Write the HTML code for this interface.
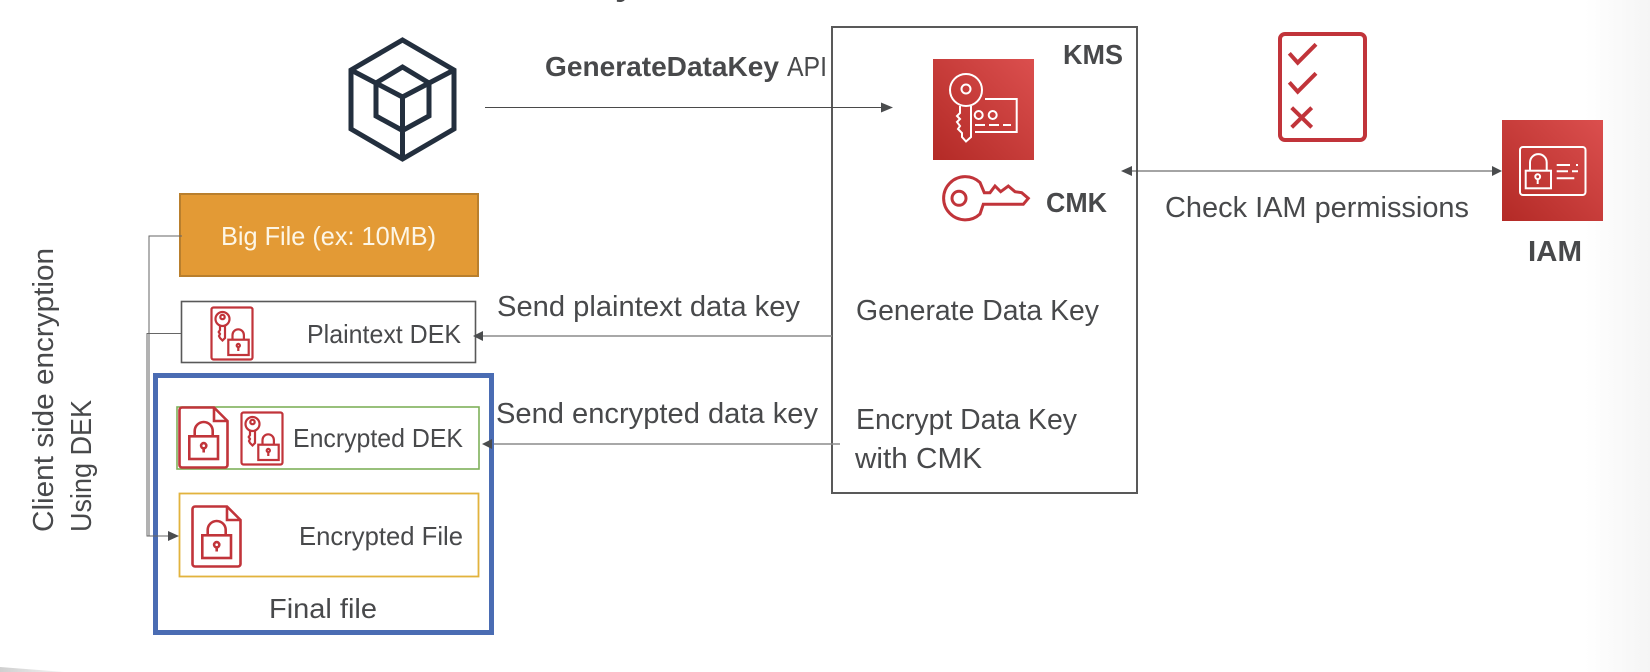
<!DOCTYPE html>
<html>
<head>
<meta charset="utf-8">
<style>
html,body{margin:0;padding:0;background:#fff;}
svg{display:block;filter:blur(0.35px);}
text{font-family:"Liberation Sans",sans-serif;fill:#48494b;}
</style>
</head>
<body>
<svg width="1650" height="672" viewBox="0 0 1650 672" xmlns="http://www.w3.org/2000/svg">
<defs>
<linearGradient id="red" x1="0" y1="1" x2="1" y2="0">
<stop offset="0" stop-color="#b32a26"/><stop offset="1" stop-color="#db4f4e"/>
</linearGradient>
<linearGradient id="edge" x1="0" y1="0" x2="1" y2="0">
<stop offset="0" stop-color="#fff"/><stop offset="1" stop-color="#f5f5f5"/>
</linearGradient>
<linearGradient id="sliver" x1="0" y1="0" x2="1" y2="0">
<stop offset="0" stop-color="#cfcfcf"/><stop offset="1" stop-color="#f4f4f4"/>
</linearGradient>
<symbol id="keydoc" viewBox="0 0 42 53" width="42" height="53" overflow="visible">
<g fill="none" stroke="#c1343a" stroke-width="2.2">
<rect x="0.5" y="0.5" width="41" height="52" rx="2"/>
<circle cx="11.5" cy="12" r="7"/><circle cx="11.5" cy="10" r="2.2"/>
<path d="M9 19V23L7.7 25 9 27 8 29 9 31 11.5 33.5 14 31V19"/>
<path d="M21.5 32.5V28a5.7 5.7 0 0 1 11.4 0V32.5"/>
<rect x="17.3" y="32.7" width="20.4" height="15.3"/>
<circle cx="27.3" cy="38.5" r="1.6"/><path d="M27.3 40V44"/>
</g>
</symbol>
<symbol id="lockdoc" viewBox="0 0 49 61" width="49" height="61" overflow="visible">
<g fill="none" stroke="#c1343a" stroke-width="2.6">
<path d="M3 0.5H35L48.5 14V58a2.5 2.5 0 0 1-2.5 2.5H3A2.5 2.5 0 0 1 .5 58V3A2.5 2.5 0 0 1 3 .5Z"/>
<path d="M35 .5V14H48.5"/>
<rect x="10.3" y="29.3" width="28.7" height="22.7"/>
<path d="M15.7 29V24a9 9 0 0 1 18 0V29"/>
<circle cx="24.7" cy="38.7" r="2.6"/><path d="M24.7 41.3V45.5"/>
</g>
</symbol>
</defs>

<rect width="1650" height="672" fill="#fff"/>
<rect x="1585" y="0" width="65" height="672" fill="url(#edge)"/>
<polygon points="0,667 65,672 0,672" fill="url(#sliver)"/>

<text x="615" y="-5.5" font-size="36" font-weight="bold">y</text>

<!-- hexagon cube -->
<g fill="none" stroke="#232f3e" stroke-width="5" stroke-linejoin="miter">
<polygon points="402.5,40 454,70 454,129 402.5,159 351,129 351,70"/>
<polygon points="402.5,67 429,83 429,116 402.5,130.5 376,116 376,83"/>
<path d="M351 70L402.5 97 454 70M402.5 97V159"/>
</g>

<!-- KMS box -->
<rect x="832" y="27" width="305" height="466" fill="none" stroke="#595959" stroke-width="2"/>

<!-- connectors -->
<g stroke-width="1.1" fill="none">
<path d="M485 107.5H884" stroke="#4a4a4a"/>
<path d="M1130 171H1494" stroke="#4a4a4a"/>
<path d="M832 336H482" stroke="#8c8c8c" stroke-width="1.6"/>
<path d="M840 444H490" stroke="#8c8c8c" stroke-width="1.6"/>
</g>
<g fill="#4a4c4e">
<polygon points="893,107.5 881,102.5 881,112.5"/>
<polygon points="1121,171 1132,166 1132,176"/>
<polygon points="1502,171 1492,166 1492,176"/>
</g>

<!-- KMS icon -->
<rect x="933" y="59" width="101" height="101" fill="url(#red)"/>
<g fill="none" stroke="#fff" stroke-width="2">
<circle cx="966" cy="90" r="16"/><circle cx="966" cy="89" r="4.5"/>
<path d="M960 106V113L957 116 960 119 957 122 960 126 958 129 962 133V137L966 141.5 971 137V106"/>
<path d="M985 99H1016.7V132H975"/>
<circle cx="978.7" cy="115" r="4"/><circle cx="992.7" cy="115" r="4"/>
<path d="M975 125H1011" stroke-dasharray="10 4"/>
</g>

<!-- CMK key -->
<g fill="none" stroke="#c1343a" stroke-width="3">
<path d="M980 182.5L984.3 192.7H990L995 186 1000.7 191.7 1008.3 186 1015 191.7 1021.7 192.7 1028.3 198.3 1023.3 204.3H983.3L980 214A21.6 21.6 0 1 1 980 182.5Z"/>
<circle cx="959" cy="198.3" r="7"/>
</g>

<!-- checklist -->
<rect x="1280" y="34" width="85" height="106" rx="5" fill="none" stroke="#c1343a" stroke-width="4"/>
<g fill="none" stroke="#c1343a" stroke-width="4">
<path d="M1289.3 53.3L1297.7 62.7 1316 44.3"/>
<path d="M1289.3 82.3L1297.7 91.7 1316 73.3"/>
<path d="M1291.7 107.7L1311.7 127.3M1311.7 107.7L1291.7 127.3"/>
</g>

<!-- IAM icon -->
<rect x="1502" y="120" width="101" height="101" fill="url(#red)"/>
<g fill="none" stroke="#fff" stroke-width="2">
<rect x="1520" y="147" width="65.5" height="48" rx="3"/>
<rect x="1525.7" y="170.7" width="25.3" height="17.6"/>
<path d="M1530 170.7V162.5a8.3 8.3 0 0 1 16.7 0V170.7"/>
<circle cx="1537.7" cy="176.7" r="2.4"/><path d="M1537.7 179V184"/>
<path d="M1556.7 165H1570M1576 165H1578M1556.7 171.3H1568M1572 171.3H1578M1556.7 178.3H1574.3"/>
</g>

<!-- left boxes -->
<rect x="180" y="194" width="298" height="82" fill="#e39a35" stroke="#b97f2d" stroke-width="2"/>
<rect x="181.5" y="301.5" width="294" height="61" fill="#fff" stroke="#595959" stroke-width="1.6"/>
<rect x="155.5" y="375.5" width="336" height="257" fill="none" stroke="#4a6cb3" stroke-width="5"/>
<rect x="177" y="407" width="302" height="62" fill="none" stroke="#7fb05a" stroke-width="1.6"/>
<rect x="179.5" y="493.5" width="299" height="83" fill="none" stroke="#e2b33d" stroke-width="1.8"/>

<!-- left connectors -->
<g fill="none" stroke="#666" stroke-width="1">
<path d="M182 236H149V536"/>
<path d="M181 333.5H147V536H170"/>
</g>
<polygon points="179,536 168,531 168,541" fill="#4a4c4e"/>
<polygon points="473,336 483,331 483,341" fill="#4a4c4e"/>
<polygon points="482,444 492,439 492,449" fill="#4a4c4e"/>

<!-- icons in boxes -->
<use href="#keydoc" x="211" y="307"/>
<use href="#keydoc" x="241" y="412"/>
<use href="#lockdoc" x="179" y="407"/>
<use href="#lockdoc" x="192" y="506"/>

<!-- labels -->
<text x="545" y="76" font-size="28" font-weight="bold" textLength="234" lengthAdjust="spacingAndGlyphs">GenerateDataKey</text>
<text x="787" y="76" font-size="28" textLength="40" lengthAdjust="spacingAndGlyphs">API</text>
<text x="1063" y="64" font-size="28" font-weight="bold" textLength="60" lengthAdjust="spacingAndGlyphs">KMS</text>
<text x="1046" y="212" font-size="28" font-weight="bold" textLength="61" lengthAdjust="spacingAndGlyphs">CMK</text>
<text x="1165" y="217" font-size="29" textLength="304" lengthAdjust="spacingAndGlyphs">Check IAM permissions</text>
<text x="1528" y="261" font-size="29" font-weight="bold" textLength="54" lengthAdjust="spacingAndGlyphs">IAM</text>
<text x="856" y="320" font-size="29" textLength="243" lengthAdjust="spacingAndGlyphs">Generate Data Key</text>
<text x="856" y="429" font-size="29" textLength="221" lengthAdjust="spacingAndGlyphs">Encrypt Data Key</text>
<text x="855" y="468" font-size="29" textLength="127" lengthAdjust="spacingAndGlyphs">with CMK</text>
<text x="497" y="316" font-size="29" textLength="303" lengthAdjust="spacingAndGlyphs">Send plaintext data key</text>
<text x="496" y="423" font-size="29" textLength="322" lengthAdjust="spacingAndGlyphs">Send encrypted data key</text>
<text x="221" y="245" font-size="26" textLength="215" lengthAdjust="spacingAndGlyphs" style="fill:#fdf6e6">Big File (ex: 10MB)</text>
<text x="307" y="343" font-size="26" textLength="154" lengthAdjust="spacingAndGlyphs">Plaintext DEK</text>
<text x="293" y="447" font-size="26" textLength="170" lengthAdjust="spacingAndGlyphs">Encrypted DEK</text>
<text x="299" y="545" font-size="26" textLength="164" lengthAdjust="spacingAndGlyphs">Encrypted File</text>
<text x="269" y="618" font-size="28" textLength="108" lengthAdjust="spacingAndGlyphs">Final file</text>
<text transform="translate(53 532) rotate(-90)" font-size="29" textLength="284" lengthAdjust="spacingAndGlyphs">Client side encryption</text>
<text transform="translate(91 532) rotate(-90)" font-size="29" textLength="132" lengthAdjust="spacingAndGlyphs">Using DEK</text>
</svg>
</body>
</html>
